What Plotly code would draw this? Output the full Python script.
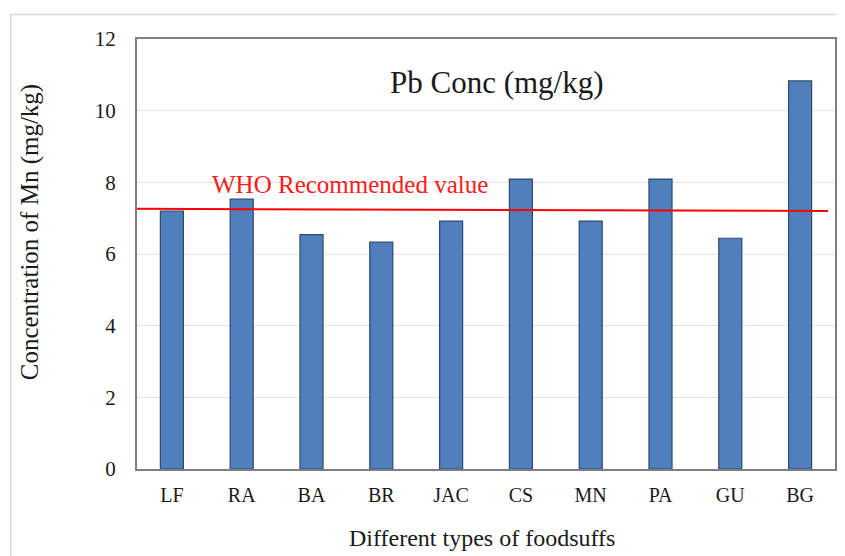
import plotly.graph_objects as go

categories = ["LF", "RA", "BA", "BR", "JAC", "CS", "MN", "PA", "GU", "BG"]
pb_conc = [7.2, 7.53, 6.54, 6.33, 6.92, 8.09, 6.92, 8.09, 6.44, 10.83]
who_x = [-0.56, 9.4]
who_value = [7.26, 7.2]
y_ticks = [0, 2, 4, 6, 8, 10, 12]

font_family = "Liberation Serif, Times New Roman, serif"
text_color = "#1A1A1A"

fig = go.Figure()
fig.add_trace(go.Bar(
    x=list(range(len(categories))), y=pb_conc,
    marker=dict(color="#4F7FBC", line=dict(color="#2C4A6E", width=1.2)),
    width=0.33, showlegend=False,
))
fig.add_trace(go.Scatter(
    x=who_x, y=who_value, mode="lines",
    line=dict(color="#FF0000", width=2), showlegend=False, cliponaxis=False,
))

fig.add_annotation(x=2.55, y=7.93, text="WHO Recommended value", showarrow=False,
                   xanchor="center", yanchor="middle",
                   font=dict(family=font_family, size=25, color="#FF1A1A"), xref="x", yref="y")
fig.add_annotation(x=0.516, y=0.898, xref="paper", yref="paper", text="Pb Conc (mg/kg)",
                   xanchor="center", yanchor="middle",
                   showarrow=False, font=dict(family=font_family, size=31, color=text_color))
fig.add_annotation(x=0.494, y=-0.16, xref="paper", yref="paper", text="Different types of foodsuffs",
                   xanchor="center", yanchor="middle",
                   showarrow=False, font=dict(family=font_family, size=24, color=text_color))
fig.add_annotation(x=-0.153, y=0.551, xref="paper", yref="paper", text="Concentration of Mn (mg/kg)",
                   xanchor="center", yanchor="middle",
                   textangle=-90, showarrow=False, font=dict(family=font_family, size=25, color=text_color))

# outer frame
fig.add_shape(type="rect", xref="paper", yref="paper", x0=-0.181, x1=1.05, y0=-0.3, y1=1.057,
              line=dict(color="#D9D9D9", width=1.5), layer="below")

fig.update_layout(
    width=837, height=548,
    margin=dict(l=129, r=8, t=31, b=87),
    paper_bgcolor="white", plot_bgcolor="white",
    font=dict(family=font_family, color=text_color),
    xaxis=dict(
        tickmode="array", tickvals=list(range(len(categories))), ticktext=categories,
        range=[-0.5, 9.5], showline=True, linecolor="#7F7F7F", linewidth=2, mirror=True,
        ticks="", tickfont=dict(size=20), showgrid=False, ticklabelstandoff=7,
    ),
    yaxis=dict(
        range=[0, 12], tickvals=y_ticks, showline=True, linecolor="#7F7F7F", linewidth=2, mirror=True,
        ticks="", tickfont=dict(size=21), showgrid=True, gridcolor="#E3E3E3", gridwidth=1,
        ticklabelstandoff=15, zeroline=False,
    ),
)

fig.write_html("out.html")
